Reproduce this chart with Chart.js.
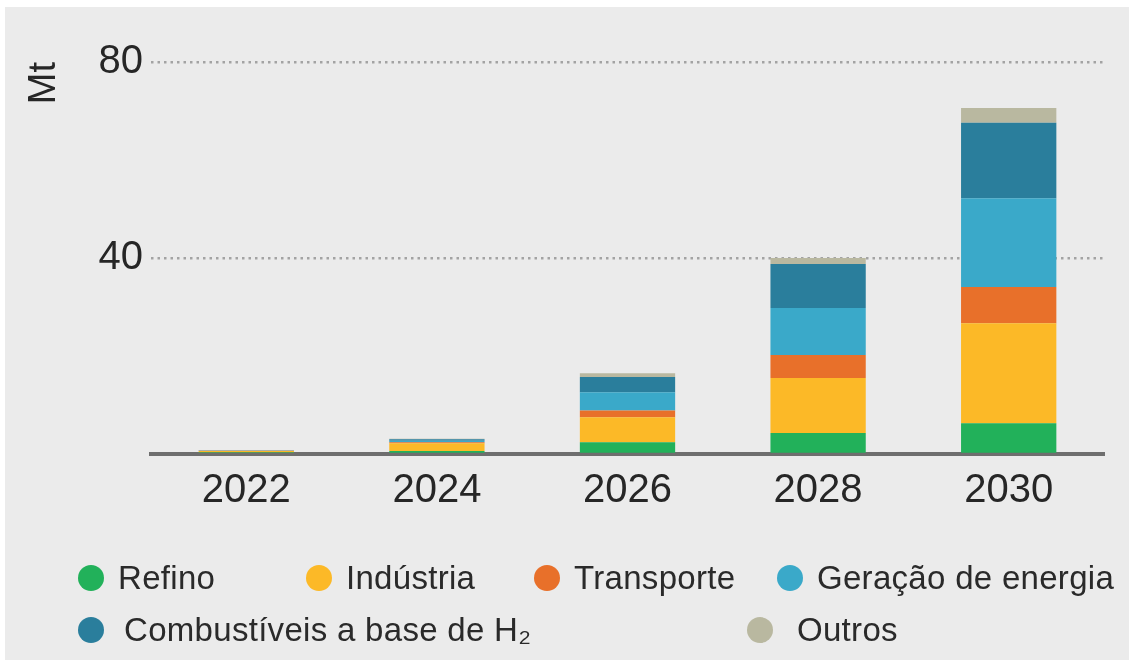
<!DOCTYPE html>
<html>
<head>
<meta charset="utf-8">
<script src="https://cdn.jsdelivr.net/npm/chart.js@4.4.1/dist/chart.umd.min.js"></script>
<style>
  html, body { margin: 0; padding: 0; background: #ffffff; }
  #wrap { position: relative; width: 1129px; height: 660px; overflow: hidden; }
  #bg { position: absolute; left: 5px; top: 7px; right: 0; bottom: 0; background: #ebebeb; }
  #c { position: absolute; left: 0; top: 0; }
  #legend { position: absolute; left: 0; top: 0; width: 1129px; height: 660px; pointer-events: none;
            font-family: "Liberation Sans", Arial, sans-serif; font-size: 33px; color: #2a2a2a; letter-spacing: 0.3px; }
  .li { position: absolute; display: flex; align-items: center; white-space: nowrap; height: 40px; }
  .dot { width: 26px; height: 26px; border-radius: 50%; margin-right: 14px; flex: none; }
  .li:nth-child(1) { left: 78px;  top: 558px; }
  .li:nth-child(2) { left: 306px; top: 558px; }
  .li:nth-child(3) { left: 534px; top: 558px; }
  .li:nth-child(4) { left: 777px; top: 558px; }
  .li:nth-child(5) { left: 78px;  top: 610px; }
  .li:nth-child(5) .dot { margin-right: 20px; }
  .li:nth-child(6) { left: 747px; top: 610px; }
  .li:nth-child(6) .dot { margin-right: 24px; }
</style>
</head>
<body>
<div id="wrap">
  <div id="bg"></div>
  <canvas id="c" width="1129" height="660"></canvas>
  <div id="legend"></div>
</div>
<script>
// ---- Data ----
const years = ['2022', '2024', '2026', '2028', '2030'];
const seriesNames = ['Refino', 'Indústria', 'Transporte', 'Geração de energia', 'Combustíveis a base de H₂', 'Outros'];
const refino       = [0.35, 0.6, 2.4, 4.3, 6.3];
const industria    = [0.25, 1.6, 5.1, 11.2, 20.4];
const transporte   = [0.05, 0.2, 1.4, 4.7, 7.4];
const geracao      = [0.05, 0.3, 3.7, 9.6, 18.1];
const combustiveis = [0.05, 0.3, 3.1, 9.0, 15.4];
const outros       = [0.02, 0.1, 0.8, 1.2, 3.0];
const yTicks = [0, 40, 80];
const yTitle = 'Mt';

const colors = ['#22b15a', '#fcb927', '#e8702a', '#3aa9c9', '#2a7e9c', '#b9b8a0'];
const values = [refino, industria, transporte, geracao, combustiveis, outros];

const datasets = seriesNames.map((name, i) => ({
  label: name,
  data: values[i],
  backgroundColor: colors[i],
  borderWidth: 0,
  barPercentage: 0.5,
  categoryPercentage: 1.0
}));

const FONT = '"Liberation Sans", Arial, sans-serif';

const chart = new Chart(document.getElementById('c'), {
  type: 'bar',
  data: { labels: years, datasets },
  options: {
    responsive: false,
    animation: false,
    layout: { padding: { left: 5, right: 25, top: 62, bottom: 132 } },
    plugins: { legend: { display: false }, tooltip: { enabled: false } },
    scales: {
      x: {
        stacked: true,
        grid: { display: false, drawTicks: false },
        border: { display: true, color: '#6e6e6e', width: 4 },
        ticks: { color: '#262626', font: { family: FONT, size: 40 }, padding: 13 }
      },
      y: {
        stacked: true,
        min: yTicks[0],
        max: yTicks[yTicks.length - 1],
        afterBuildTicks: (s) => { s.ticks = yTicks.map(v => ({ value: v })); },
        afterFit: (s) => { s.width = 146; },
        grid: {
          drawTicks: false,
          lineWidth: 2.5,
          color: (ctx) => (ctx.tick && ctx.tick.value === 0) ? 'rgba(0,0,0,0)' : '#a3a3a3'
        },
        border: { display: false, dash: [2.5, 4] },
        ticks: {
          color: '#262626',
          font: { family: FONT, size: 40 },
          padding: 8,
          callback: (v) => v === 0 ? '' : v
        },
        title: {
          display: true,
          text: yTitle,
          align: 'end',
          color: '#262626',
          font: { family: FONT, size: 38 },
          padding: { top: 17, bottom: 0 }
        }
      }
    }
  }
});

// HTML legend built from the chart's datasets
const legendEl = document.getElementById('legend');
chart.data.datasets.forEach(ds => {
  const item = document.createElement('div');
  item.className = 'li';
  const dot = document.createElement('span');
  dot.className = 'dot';
  dot.style.background = ds.backgroundColor;
  const txt = document.createElement('span');
  txt.textContent = ds.label;
  item.appendChild(dot);
  item.appendChild(txt);
  legendEl.appendChild(item);
});
</script>
</body>
</html>
